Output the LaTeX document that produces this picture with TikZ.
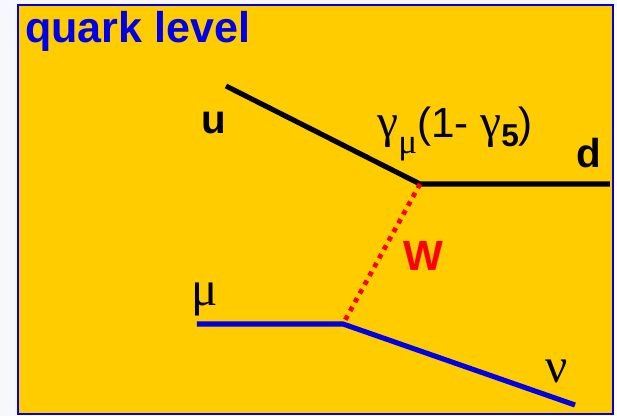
\documentclass[tikz,border=0pt]{standalone}
\usepackage{fontspec}
\setmainfont{Liberation Sans}
\newfontfamily\greekfont{Liberation Serif}
\usetikzlibrary{calc}
\definecolor{panel}{HTML}{FFCC00}
\definecolor{quarkblue}{HTML}{0000E6}
\definecolor{margin}{HTML}{F6F8FC}

\begin{document}
\begin{tikzpicture}[
  lbl/.style={font=\bfseries\fontsize{23}{26}\selectfont, text=black, inner sep=0pt},
  sym/.style={font=\greekfont\fontsize{28}{32}\selectfont, text=black, inner sep=0pt},
  quark/.style={line width=2.9pt, black},
  lepton/.style={line width=2.9pt, quarkblue},
  boson/.style={line width=2.7pt, red, dash pattern=on 2.7pt off 3pt}]
  \useasboundingbox (0,0) rectangle (12.34,8.32);
  \fill[margin] (0,0) rectangle (0.34,8.32);
  \fill[margin] (0,8.2) rectangle (12.34,8.32);
  \node[draw=quarkblue, line width=1.4pt, fill=panel, minimum width=11.9cm, minimum height=8.18cm, anchor=south west, inner sep=0pt] (frame) at (0.34,0.02) {};
  \node[font=\bfseries\fontsize{24.5}{28}\selectfont, text=quarkblue, anchor=base west, inner sep=0pt] (title) at (0.5,7.46) {quark level};
  \coordinate (uend) at (4.52,6.6);
  \coordinate (top) at (8.4,4.64);
  \coordinate (dend) at (12.2,4.64);
  \coordinate (muend) at (3.94,1.84);
  \coordinate (bot) at (6.86,1.84);
  \coordinate (nuend) at (11.5,0.22);
  \draw[quark] (uend) -- (top) -- (dend);
  \draw[lepton] (muend) -- (bot) -- (nuend);
  \draw[boson] (top) -- (bot);
  \node[lbl] (ulabel) at (4.28,5.86) {u};
  \node[lbl] (dlabel) at (11.78,5.26) {d};
  \node[font=\bfseries\fontsize{24}{28}\selectfont, text=red, inner sep=0pt] (wlabel) at (8.46,3.2) {W};
  \node[sym] (mulabel) at (4.1,2.34) {μ};
  \node[sym] (nulabel) at (11.14,0.9) {ν};
  \node[font=\fontsize{24}{28}\selectfont, anchor=base west, inner sep=0pt] (vertex) at (7.54,5.56)
    {{\greekfont\fontsize{27}{30}\selectfont γ\raisebox{-0.32em}{\fontsize{20}{22}\selectfont μ}}(1- {\greekfont\fontsize{27}{30}\selectfont γ}\raisebox{-0.2em}{\bfseries\fontsize{18}{20}\selectfont 5})};
\end{tikzpicture}
\end{document}
